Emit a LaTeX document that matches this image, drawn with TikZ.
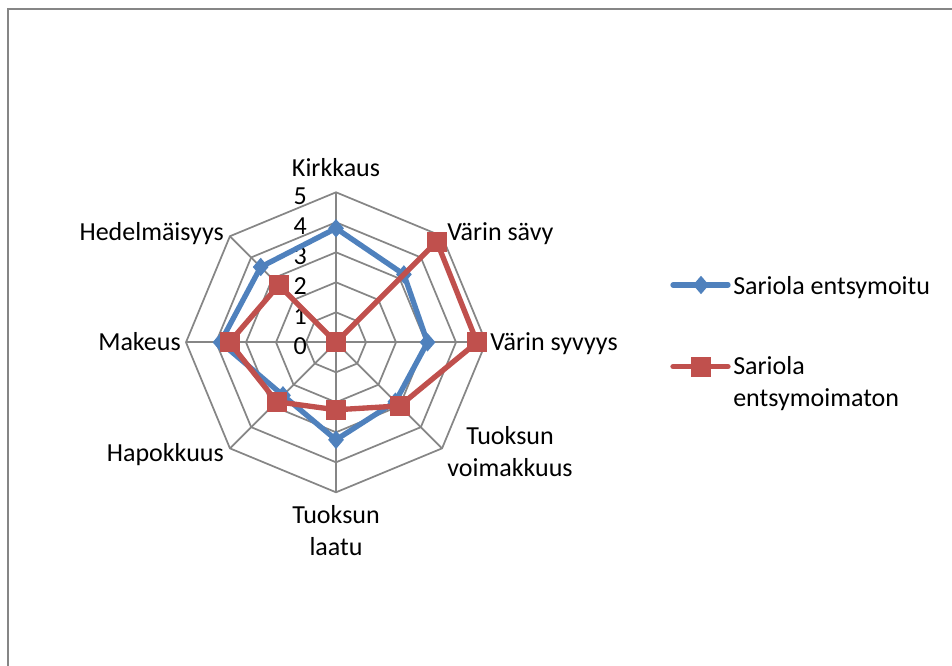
\documentclass[tikz,border=0pt]{standalone}
\usepackage{fontspec}
\setmainfont{Carlito}
\usepackage{tikz}
\usetikzlibrary{shapes.geometric}
\definecolor{blueish}{HTML}{4F81BD}
\definecolor{redish}{HTML}{C0504D}
\definecolor{grayish}{HTML}{868686}

\begin{document}
\begin{tikzpicture}[x=0.75pt,y=0.75pt,
        every node/.style={font=\fontsize{19.5}{24.3}\selectfont,inner sep=0pt},
        grid line/.style={draw=grayish,line width=1.3pt},
        blue series/.style={draw=blueish,line width=4pt,line join=round},
        red series/.style={draw=redish,line width=4pt,line join=round},
        blue mark/.style={diamond,fill=blueish,minimum width=12pt,minimum height=14pt},
        red mark/.style={rectangle,fill=redish,minimum size=15pt}]
    \useasboundingbox (0,0) rectangle (952,666);
    \draw[grayish,line width=1.3pt] (8,0) -- (8,657) -- (952,657);
    % radar grid
    \begin{scope}[shift={(336,323.7)}]
        \foreach \r in {1,...,5}
            \draw[grid line] (90:\r*30) \foreach \k in {1,...,7}{-- (90-45*\k:\r*30)} -- cycle;
        \foreach \k in {0,...,7}
            \draw[grid line] (0,0) -- (90-45*\k:150);
        \foreach \r in {0,...,5}
            \node[anchor=east] (tick\r) at (-29,\r*30-4) {\r};
        % points
        \foreach \v [count=\k from 0] in {3.8,3.2,3.05,2.8,3.25,2.5,3.85,3.55}
            \coordinate (b\k) at (90-45*\k:\v*30);
        \foreach \v [count=\k from 0] in {0,4.75,4.7,3.0,2.25,2.8,3.55,2.7}
            \coordinate (r\k) at (90-45*\k:\v*30);
    \end{scope}
    % series
    \draw[blue series] (b0) -- (b1) -- (b2) -- (b3) -- (b4) -- (b5) -- (b6) -- (b7) -- cycle;
    \foreach \k in {0,...,7}
        \node[blue mark] (bm\k) at (b\k) {};
    \draw[red series] (r0) -- (r1) -- (r2) -- (r3) -- (r4) -- (r5) -- (r6) -- (r7) -- cycle;
    \foreach \k in {0,...,7}
        \node[red mark] (rm\k) at (r\k) {};
    % category labels
    \node[anchor=base] (kirkkaus) at (336,489.3) {Kirkkaus};
    \node[anchor=base west] (savy) at (447,425.5) {Värin sävy};
    \node[anchor=base west] (syvyys) at (490,315) {Värin syvyys};
    \node[anchor=base,align=center] (voimakkuus) at (510,189.3) {Tuoksun\\voimakkuus};
    \node[anchor=base,align=center] (laatu) at (336,110) {Tuoksun\\laatu};
    \node[anchor=base east] (hapokkuus) at (224,204.3) {Hapokkuus};
    \node[anchor=base east] (makeus) at (181,315) {Makeus};
    \node[anchor=base east] (hedelmaisyys) at (224,425.5) {Hedelmäisyys};
    % legend
    \coordinate (lb1) at (673,381);
    \coordinate (lb2) at (728,381);
    \draw[blue series,line cap=round] (lb1) -- (lb2);
    \node[blue mark] (lbm) at (701,381) {};
    \node[anchor=base west] (entsymoitu) at (733,371.7) {Sariola entsymoitu};
    \coordinate (lr1) at (673,299.3);
    \coordinate (lr2) at (728,299.3);
    \draw[red series,line cap=round] (lr1) -- (lr2);
    \node[red mark] (lrm) at (701,299.3) {};
    \node[anchor=base west,align=left] (entsymoimaton) at (733,259.3) {Sariola\\entsymoimaton};
\end{tikzpicture}
\end{document}
